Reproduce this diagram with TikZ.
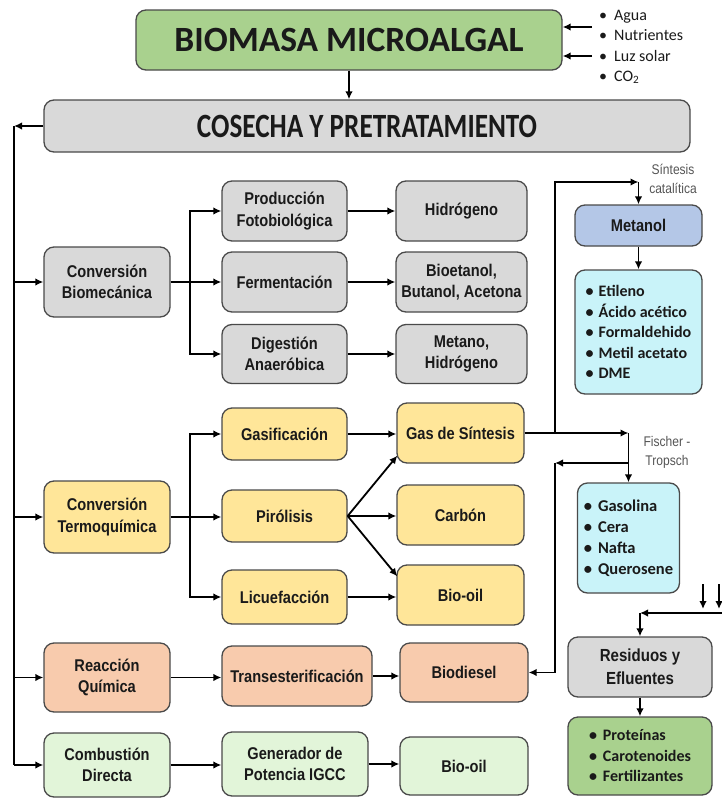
\documentclass[tikz,border=0pt]{standalone}
\usepackage{fontspec}
\setmainfont{Liberation Sans}
\newfontfamily\nar[FakeStretch=0.86]{Liberation Sans}
\newfontfamily\calf{Carlito}
\newfontfamily\calc[FakeStretch=0.8]{Carlito}
\usetikzlibrary{arrows.meta,calc}
\definecolor{cgreen}{HTML}{A9D18E}
\definecolor{cgray}{HTML}{D9D9D9}
\definecolor{cyel}{HTML}{FFE699}
\definecolor{csal}{HTML}{F8CBAD}
\definecolor{cpale}{HTML}{E2F5D9}
\definecolor{cblue}{HTML}{B4C7E7}
\definecolor{ccyan}{HTML}{C9F3F9}
\definecolor{cbord}{HTML}{4A4A4A}
\definecolor{ctext}{HTML}{1A1A1A}
\definecolor{cnote}{HTML}{555555}
\tikzset{
  box/.style={draw=cbord, line width=1.3pt, rounded corners=10pt, align=center,
    inner sep=0pt, text=ctext, font=\nar\bfseries\fontsize{17}{21.5}\selectfont},
  listbox/.style={box, align=left, font=\calf\bfseries\fontsize{16}{20.5}\selectfont},
  conn/.style={line width=1.8pt, draw=black},
  arr/.style={conn, -{Latex[length=8pt,width=7.5pt]}},
  note/.style={align=center, text=cnote, inner sep=0pt, font=\nar\fontsize{14}{19}\selectfont}
}
\begin{document}
\begin{tikzpicture}[x=1pt,y=-1pt]
\useasboundingbox[fill=white] (0,0) rectangle (722,798);
% top
\node[box, fill=cgreen, minimum width=426pt, minimum height=60pt, font=\calf\bfseries\fontsize{35.5}{38}\selectfont] (bio) at (349,40) {BIOMASA MICROALGAL};
\node[box, fill=cgray, minimum width=646pt, minimum height=52pt, font=\calc\bfseries\fontsize{34}{36}\selectfont] (cos) at (367,126) {COSECHA Y PRETRATAMIENTO};
\node[anchor=north west, align=left, inner sep=0pt, text=ctext, font=\calf\fontsize{16}{20.3}\selectfont] (inp) at (599,10)
  {\textbullet\hspace{7pt}Agua\\ \textbullet\hspace{7pt}Nutrientes\\ \textbullet\hspace{7pt}Luz solar\\ \textbullet\hspace{7pt}CO\textsubscript{2}};
\coordinate (a1) at (592,27);
\coordinate (a2) at (592,56);
\draw[arr] (a1) -- (a1 -| bio.east);
\draw[arr] (a2) -- (a2 -| bio.east);
\draw[arr] (bio.south) -- (cos.north -| bio.south);
% row 1
\node[box, fill=cgray, minimum width=126pt, minimum height=70pt] (cb) at (107,282) {Conversión\\Biomecánica};
\node[box, fill=cgray, minimum width=125pt, minimum height=60pt] (pf) at (284.5,211) {Producción\\Fotobiológica};
\node[box, fill=cgray, minimum width=125pt, minimum height=60pt] (fe) at (284.5,282) {Fermentación};
\node[box, fill=cgray, minimum width=125pt, minimum height=59pt] (da) at (284.5,354) {Digestión\\Anaeróbica};
\node[box, fill=cgray, minimum width=131pt, minimum height=60pt] (hi) at (461.5,211) {Hidrógeno};
\node[box, fill=cgray, minimum width=131pt, minimum height=60pt] (bb) at (461.5,282) {Bioetanol,\\Butanol, Acetona};
\node[box, fill=cgray, minimum width=131pt, minimum height=59pt] (mh) at (461.5,354) {Metano,\\Hidrógeno};
% row 2
\node[box, fill=cyel, minimum width=126pt, minimum height=72pt] (ct) at (107,517) {Conversión\\Termoquímica};
\node[box, fill=cyel, minimum width=125pt, minimum height=52pt] (ga) at (284.5,434) {Gasificación};
\node[box, fill=cyel, minimum width=125pt, minimum height=52pt] (pi) at (284.5,516) {Pirólisis};
\node[box, fill=cyel, minimum width=125pt, minimum height=54pt] (li) at (284.5,597) {Licuefacción};
\node[box, fill=cyel, minimum width=127pt, minimum height=60pt] (gs) at (460.5,433) {Gas de Síntesis};
\node[box, fill=cyel, minimum width=127pt, minimum height=60pt] (ca) at (460.5,515) {Carbón};
\node[box, fill=cyel, minimum width=127pt, minimum height=60pt] (bo) at (460.5,595) {Bio-oil};
% row 3
\node[box, fill=csal, minimum width=126pt, minimum height=69pt] (rq) at (107,677.5) {Reacción\\Química};
\node[box, fill=csal, minimum width=150pt, minimum height=60pt] (tr) at (297,676) {Transesterificación};
\node[box, fill=csal, minimum width=128pt, minimum height=59pt] (bd) at (464,672.5) {Biodiesel};
% row 4
\node[box, fill=cpale, minimum width=126pt, minimum height=64pt] (cd) at (107,765) {Combustión\\Directa};
\node[box, fill=cpale, minimum width=146pt, minimum height=64pt] (gp) at (295,764) {Generador de\\Potencia IGCC};
\node[box, fill=cpale, minimum width=128pt, minimum height=58pt] (bo2) at (464,766) {Bio-oil};
% right column
\node[box, fill=cblue, minimum width=127pt, minimum height=41pt] (me) at (638.5,225.5) {Metanol};
\node[listbox, fill=ccyan, minimum width=127pt, minimum height=124pt] (ml) at (638.5,332)
  {\textbullet\hspace{5pt}Etileno\\ \textbullet\hspace{5pt}Ácido acético\\ \textbullet\hspace{5pt}Formaldehido\\ \textbullet\hspace{5pt}Metil acetato\\ \textbullet\hspace{5pt}DME};
\node[listbox, fill=ccyan, minimum width=102pt, minimum height=110pt, font=\calf\bfseries\fontsize{16.5}{21}\selectfont] (ft) at (628.5,538)
  {\textbullet\hspace{6pt}Gasolina\\ \textbullet\hspace{6pt}Cera\\ \textbullet\hspace{6pt}Nafta\\ \textbullet\hspace{6pt}Querosene};
\node[box, fill=cgray, minimum width=144pt, minimum height=60pt, font=\nar\bfseries\fontsize{17.5}{23}\selectfont] (re) at (640,667) {Residuos y\\Efluentes};
\node[listbox, fill=cgreen, minimum width=144pt, minimum height=78pt] (pr) at (640,756)
  {\textbullet\hspace{6pt}Proteínas\\ \textbullet\hspace{6pt}Carotenoides\\ \textbullet\hspace{6pt}Fertilizantes};
\node[note] (sc) at (673,179) {Síntesis\\catalítica};
\node[note] (fst) at (667,452) {Fischer -\\Tropsch};
% left bus
\coordinate (L0) at (14,126);
\coordinate (L1) at (14,765);
\draw[arr] (cos.west) -- (L0);
\draw[conn] (L0) -- (L1);
\draw[arr] (L0 |- cb.west) -- (cb.west);
\draw[arr] (L0 |- ct.west) -- (ct.west);
\draw[arr] (L0 |- rq.west) -- (rq.west);
\draw[arr] (L1) -- (cd.west);
% row 1 connectors
\coordinate (B1) at (190,282);
\draw[arr] (cb.east) -- (fe.west);
\draw[arr] (B1) |- (pf.west);
\draw[arr] (B1) |- (da.west);
\draw[arr] (pf.east) -- (hi.west);
\draw[arr] (fe.east) -- (bb.west);
\draw[arr] (da.east) -- (mh.west);
% row 2 connectors
\coordinate (B2) at (190,517);
\draw[arr] (ct.east) -- (ct.east -| pi.west);
\draw[arr] (B2) |- (ga.west);
\draw[arr] (B2) |- (li.west);
\draw[arr] (ga.east) -- (ga.east -| gs.west);
\draw[arr] (pi.east) -- ($(gs.south west)+(1,-8)$);
\draw[arr] (pi.east) -- (pi.east -| ca.west);
\draw[arr] (pi.east) -- ($(bo.north west)+(1,12)$);
\draw[arr] (li.east) -- (li.east -| bo.west);
% rows 3, 4
\draw[arr] (rq.west -| rq.east) -- (rq.west -| tr.west);
\draw[arr] (tr.east) -- (tr.east -| bd.west);
\draw[arr] (cd.east) -- (cd.east -| gp.west);
\draw[arr] (gp.east) -- (gp.east -| bo2.west);
% right connectors
\coordinate (K1) at (628.5,433);
\coordinate (M0) at (555,433);
\coordinate (M1) at (638.5,182);
\coordinate (J1) at (628.5,463);
\coordinate (J2) at (555,463);
\draw[arr] (gs.east) -- (K1);
\draw[arr] (K1) -- (ft.north);
\draw[arr] (M0) |- (M1);
\draw[arr] (M1) -- (me.north);
\draw[arr] (me.south) -- (ml.north);
\draw[arr] (J1) -- (J2);
\draw[arr] (J2) |- (bd.east);
% residues
\coordinate (R1) at (703,584);
\coordinate (R2) at (719,584);
\coordinate (R0) at (722,613);
\coordinate (R3) at (640,613);
\draw[arr] (R1) -- (R1 |- 0,609);
\draw[arr] (R2) -- (R2 |- 0,609);
\draw[arr] (R0) -- (R3);
\draw[arr] (R3) -- (re.north);
\draw[arr] (re.south) -- (pr.north);
\end{tikzpicture}
\end{document}
